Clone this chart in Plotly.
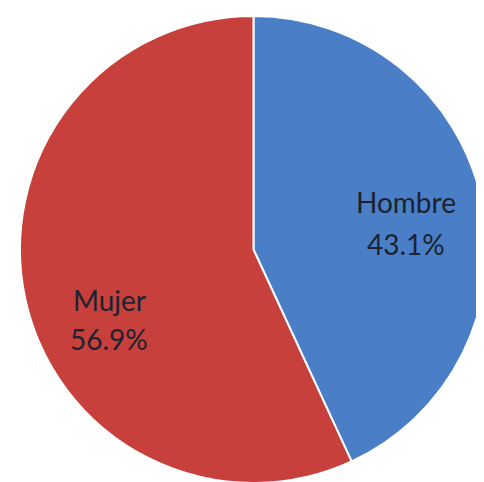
import plotly.graph_objects as go

labels = ["Hombre", "Mujer"]
values = [43.1, 56.9]
colors = ["#4A7FC8", "#C8403C"]

# label text positions (paper coords)
label_pos = {"Hombre": (0.822, 0.598, 0.510), "Mujer": (0.209, 0.394, 0.313)}

fig = go.Figure(go.Pie(
    labels=labels,
    values=values,
    sort=False,
    direction="clockwise",
    rotation=0,
    marker=dict(colors=colors, line=dict(color="white", width=2)),
    textinfo="none",
    hoverinfo="label+percent",
    domain=dict(x=[0.0227, 0.9917], y=[0.0145, 0.9834]),
    showlegend=False,
))

annotations = []
for lab, val in zip(labels, values):
    x, y1, y2 = label_pos[lab]
    for yy, txt in ((y1, lab), (y2, f"{val:.1f}%")):
        annotations.append(dict(x=x, y=yy, xref="paper", yref="paper", text=txt,
                                xanchor="center", yanchor="middle",
                                showarrow=False,
                                font=dict(family="Lato", size=28, color="#1c2230")))

fig.update_layout(
    width=484, height=482,
    margin=dict(l=0, r=0, t=0, b=0),
    paper_bgcolor="white",
    annotations=annotations,
)

fig.write_html("out.html")
